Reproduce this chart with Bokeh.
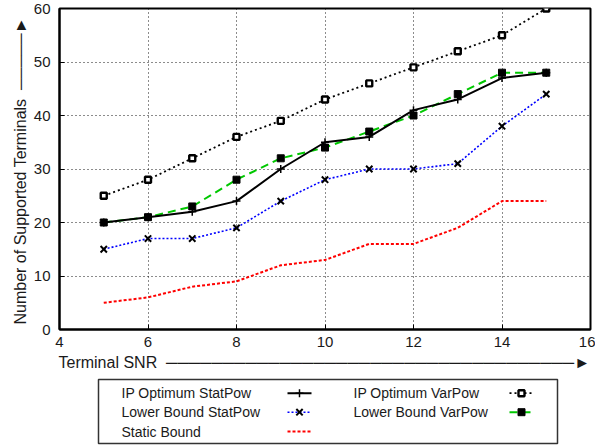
from bokeh.plotting import figure
from bokeh.models import Range1d, Title, ColumnDataSource
from bokeh.layouts import column
from bokeh.embed import file_html
from bokeh.resources import INLINE
from bokeh.core.properties import value

snr = [5, 6, 7, 8, 9, 10, 11, 12, 13, 14, 15]
ip_opt_statpow = [20, 21, 22, 24, 30, 35, 36, 41, 43, 47, 48]
ip_opt_varpow = [25, 28, 32, 36, 39, 43, 46, 49, 52, 55, 60]
lower_statpow = [15, 17, 17, 19, 24, 28, 30, 30, 31, 38, 44]
lower_varpow = [20, 21, 23, 28, 32, 34, 37, 40, 44, 48, 48]
static_bound = [5, 6, 8, 9, 12, 13, 16, 16, 19, 24, 24]

x_ticks = [4, 6, 8, 10, 12, 14, 16]
y_ticks = [0, 10, 20, 30, 40, 50, 60]
x_label = "Terminal SNR"
y_label = "Number of Supported Terminals"
legend_names = ["IP Optimum StatPow", "Lower Bound StatPow", "Static Bound",
                "IP Optimum VarPow", "Lower Bound VarPow"]

FONT = "Liberation Sans"
GREEN = "#00c800"
TXT = "#1a1a1a"
NBSP = "\u00a0"
LINE = "\u2500"
HEAD = "\u25ba"

W, H = 595, 372
BL, BR, BT, BB = 59, 5, 8, 40
p = figure(width=W, height=H, output_backend="svg", toolbar_location=None,
           x_range=Range1d(4, 16), y_range=Range1d(0, 60),
           min_border_left=BL, min_border_right=BR, min_border_top=BT, min_border_bottom=BB)
p.background_fill_color = "white"
p.border_fill_color = "white"
p.outline_line_color = "black"
p.outline_line_width = 2
p.outline_line_alpha = 1

for ax in (p.xaxis[0], p.yaxis[0]):
    ax.axis_line_width = 2
    ax.axis_line_color = "black"
    ax.major_tick_in = 5
    ax.major_tick_out = 0
    ax.minor_tick_line_color = None
    ax.major_tick_line_color = "black"
    ax.major_label_text_font = FONT
    ax.major_label_text_font_size = "15px"
    ax.major_label_text_color = TXT
p.xaxis.ticker = x_ticks
p.yaxis.ticker = y_ticks
p.xaxis.major_label_standoff = 7
p.yaxis.major_label_standoff = 9

for g in (p.xgrid[0], p.ygrid[0]):
    g.grid_line_color = "black"
    g.grid_line_dash = "1 3"
    g.grid_line_width = 1
    g.grid_line_alpha = 0.9

src = ColumnDataSource(dict(x=snr, a=ip_opt_statpow, b=ip_opt_varpow,
                            c=lower_statpow, d=lower_varpow, e=static_bound))

p.line("x", "e", source=src, line_color="red", line_width=2, line_dash="3 2")
p.line("x", "c", source=src, line_color="blue", line_width=1.6, line_dash="2 2")
p.scatter("x", "c", source=src, marker="x", size=9, line_color="black", line_width=2)
p.line("x", "b", source=src, line_color="black", line_width=1.8, line_dash="2 3")
p.scatter("x", "b", source=src, marker="square", size=6, fill_color="white",
          line_color="black", line_width=2.4)
p.line("x", "d", source=src, line_color=GREEN, line_width=2, line_dash="8 5")
p.scatter("x", "d", source=src, marker="square", size=7, fill_color="black",
          line_color="black", line_width=1)
p.line("x", "a", source=src, line_color="black", line_width=2)
p.scatter("x", "a", source=src, marker="cross", size=8, line_color="black", line_width=1.5)

# axis labels with arrows, as side-panel titles
y_title = Title(text=y_label + NBSP * 2 + LINE * 5 + HEAD, align="left", offset=5,
                text_font=FONT, text_font_size="16px", text_font_style="normal",
                text_color=TXT, standoff=4)
p.add_layout(y_title, "left")
x_title = Title(text=x_label + NBSP * 2 + LINE * 36 + HEAD, align="left", offset=-1,
                text_font=FONT, text_font_size="16px", text_font_style="normal",
                text_color=TXT, standoff=4)
p.add_layout(x_title, "below")

# legend panel (frame aligned with main frame; coordinates are page pixels)
LH = 446 - H
q = figure(width=W, height=LH, output_backend="svg", toolbar_location=None,
           x_range=Range1d(BL, W - BR), y_range=Range1d(LH, 0),
           x_axis_type=None, y_axis_type=None,
           min_border_left=BL, min_border_right=BR, min_border_top=0, min_border_bottom=0)
q.outline_line_color = None
q.xgrid.visible = False
q.ygrid.visible = False
q.quad(left=98, right=557, top=7, bottom=71, fill_color=None, line_color="#333333", line_width=1.5)

rows = [20.7, 39.7, 59]
cols_text = [121, 353]
cols_sample = [(287, 311), (509, 533)]
entries = [
    (0, 0, dict(line_color="black", line_width=2), dict(marker="cross", size=8, line_color="black", line_width=1.5)),
    (0, 1, dict(line_color="blue", line_width=1.6, line_dash="2 2"), dict(marker="x", size=9, line_color="black", line_width=2)),
    (0, 2, dict(line_color="red", line_width=2, line_dash="3 2"), None),
    (1, 0, dict(line_color="black", line_width=1.8, line_dash="2 3"), dict(marker="square", size=6, fill_color="white", line_color="black", line_width=2.4)),
    (1, 1, dict(line_color=GREEN, line_width=2, line_dash="8 5"), dict(marker="square", size=7, fill_color="black", line_color="black", line_width=1)),
]
for name, (c, r, lstyle, mstyle) in zip(legend_names, entries):
    y = rows[r]
    x0, x1 = cols_sample[c]
    q.text(x=[cols_text[c]], y=[y], text=[name], text_font=value(FONT), text_font_size="14px",
           text_align="left", text_baseline="middle", text_color=TXT)
    q.line(x=[x0, x1], y=[y, y], **lstyle)
    if mstyle:
        q.scatter(x=[(x0 + x1) / 2], y=[y], **mstyle)

layout = column(p, q, spacing=0)
open("out.html", "w").write(file_html(layout, INLINE))
